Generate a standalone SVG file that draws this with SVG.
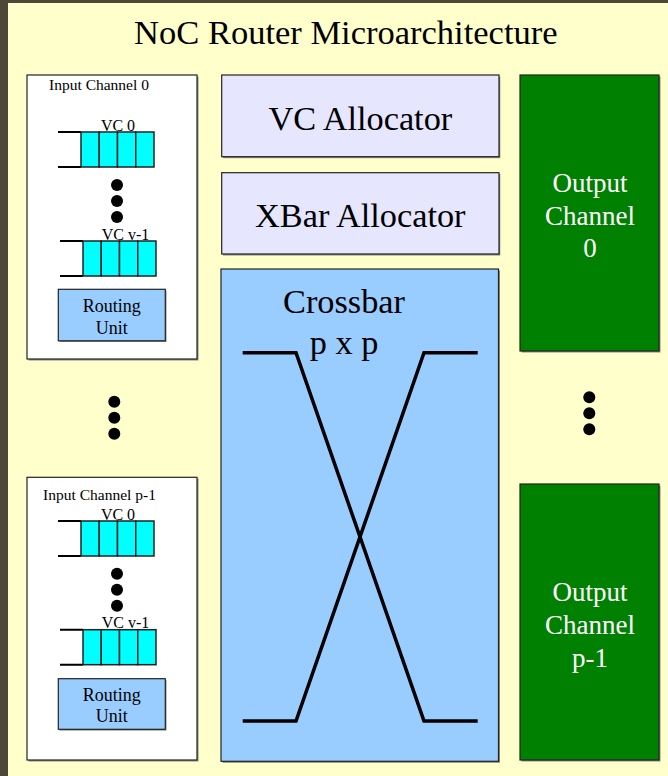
<svg xmlns="http://www.w3.org/2000/svg" width="668" height="776" viewBox="0 0 668 776">
  <defs>
    <style>
      text { font-family: "Liberation Serif", "Times New Roman", serif; fill: #000; }
      .box { stroke: #222; stroke-width: 1.2; }
      .shadow { fill: #8a8a80; }
      .chan { fill: #ffffff; }
      .alloc { fill: #e6e6ff; }
      .xbar { fill: #99ccff; }
      .route { fill: #99ccff; }
      .out { fill: #008000; }
      .cell { fill: #00ffff; stroke: #222; stroke-width: 1.5; }
      .open { stroke: #000; stroke-width: 2; fill: none; }
      .dot { fill: #000; }
      .wire { stroke: #000; stroke-width: 3.5; fill: none; stroke-linejoin: miter; }
      .t15 { font-size: 15.5px; }
      .t16 { font-size: 16px; }
      .t18 { font-size: 18px; }
      .t27 { font-size: 27px; fill: #ffffff; }
      .t34 { font-size: 34.3px; }
    </style>
    <!-- one virtual-channel buffer: open input end plus four flit cells -->
    <g id="vcq">
      <path class="open" d="M0,0 H23 M0,35 H23"/>
      <rect class="cell" x="23" y="0" width="18.25" height="35"/>
      <rect class="cell" x="41.25" y="0" width="18.25" height="35"/>
      <rect class="cell" x="59.5" y="0" width="18.25" height="35"/>
      <rect class="cell" x="77.75" y="0" width="18.25" height="35"/>
    </g>
    <!-- vertical ellipsis -->
    <g id="dots">
      <circle class="dot" cx="0" cy="0" r="6"/>
      <circle class="dot" cx="0" cy="16" r="6"/>
      <circle class="dot" cx="0" cy="32" r="6"/>
    </g>
  </defs>

  <!-- page background and frame -->
  <rect x="0" y="0" width="668" height="776" fill="#ffffcc"/>
  <rect x="0" y="0" width="668" height="3" fill="#4d4639"/>
  <rect x="0" y="0" width="8" height="776" fill="#4d4639"/>

  <text id="title" x="345.8" y="43.5" text-anchor="middle" font-size="34.5">NoC Router Microarchitecture</text>

  <!-- input channel 0 -->
  <g id="input-channel-0">
    <rect class="shadow" x="28.5" y="76.5" width="170" height="284"/>
    <rect class="chan box" x="27" y="75" width="170" height="284"/>
    <text class="t15" x="99" y="90" text-anchor="middle">Input Channel 0</text>
    <use href="#vcq" x="58" y="132"/>
    <text class="t16" x="118" y="131" text-anchor="middle">VC 0</text>
    <use href="#dots" x="117" y="185"/>
    <use href="#vcq" x="60" y="241"/>
    <text class="t16" x="125.5" y="239.5" text-anchor="middle">VC v-1</text>
    <g id="routing-unit-0">
      <rect class="shadow" x="59.5" y="290.5" width="107" height="51.5"/>
      <rect class="route box" x="58.3" y="289.3" width="107" height="51.5"/>
      <text class="t18" x="111.8" y="312.3" text-anchor="middle">Routing</text>
      <text class="t18" x="111.8" y="333.5" text-anchor="middle">Unit</text>
    </g>
  </g>

  <use id="input-dots" href="#dots" x="114.3" y="401.7"/>

  <!-- input channel p-1 -->
  <g id="input-channel-p-1">
    <rect class="shadow" x="28.5" y="478.5" width="170" height="283"/>
    <rect class="chan box" x="27" y="477.3" width="170" height="282.7"/>
    <text class="t15" x="99.5" y="499.5" text-anchor="middle">Input Channel p-1</text>
    <use href="#vcq" x="58" y="521"/>
    <text class="t16" x="118" y="520" text-anchor="middle">VC 0</text>
    <use href="#dots" x="117" y="573.7"/>
    <use href="#vcq" x="60" y="629.7"/>
    <text class="t16" x="125.5" y="628.3" text-anchor="middle">VC v-1</text>
    <g id="routing-unit-p-1">
      <rect class="shadow" x="59.5" y="680" width="107" height="50.6"/>
      <rect class="route box" x="58.3" y="678.7" width="107" height="50.6"/>
      <text class="t18" x="111.8" y="700.5" text-anchor="middle">Routing</text>
      <text class="t18" x="111.8" y="722" text-anchor="middle">Unit</text>
    </g>
  </g>

  <!-- allocators -->
  <g id="vc-allocator">
    <rect class="shadow" x="223" y="76.5" width="277.3" height="81.7"/>
    <rect class="alloc box" x="221.7" y="75" width="277.3" height="81.7"/>
    <text class="t34" x="360.3" y="130" text-anchor="middle">VC Allocator</text>
  </g>
  <g id="xbar-allocator">
    <rect class="shadow" x="223" y="174" width="277.3" height="81.5"/>
    <rect class="alloc box" x="221.7" y="172.7" width="277.3" height="81.3"/>
    <text class="t34" x="360.3" y="226.7" text-anchor="middle">XBar Allocator</text>
  </g>

  <!-- crossbar -->
  <g id="crossbar">
    <rect class="shadow" x="222.5" y="270.5" width="277.5" height="492.3"/>
    <rect class="xbar box" x="221" y="269" width="277.5" height="492.3"/>
    <text class="t34" x="344" y="313.3" text-anchor="middle">Crossbar</text>
    <text class="t34" x="344" y="354" text-anchor="middle">p x p</text>
  </g>

  <!-- crossbar switching paths -->
  <g id="connectors">
    <path class="wire" d="M242.7,352.7 H296 L424,721 H477.7"/>
    <path class="wire" d="M477.7,352.7 H424 L296,721 H242.7"/>
  </g>

  <!-- output channels -->
  <g id="output-channel-0">
    <rect class="shadow" x="521.5" y="76.5" width="139" height="276"/>
    <rect class="out box" x="520" y="75" width="139" height="276"/>
    <text class="t27" x="590" y="191.7" text-anchor="middle">Output</text>
    <text class="t27" x="590" y="225" text-anchor="middle">Channel</text>
    <text class="t27" x="590" y="256.7" text-anchor="middle">0</text>
  </g>

  <use id="output-dots" href="#dots" x="589.3" y="397.3"/>

  <g id="output-channel-p-1">
    <rect class="shadow" x="521.5" y="485.5" width="139" height="276"/>
    <rect class="out box" x="520" y="484" width="139" height="276"/>
    <text class="t27" x="590" y="601" text-anchor="middle">Output</text>
    <text class="t27" x="590" y="634" text-anchor="middle">Channel</text>
    <text class="t27" x="590" y="667" text-anchor="middle">p-1</text>
  </g>
</svg>
